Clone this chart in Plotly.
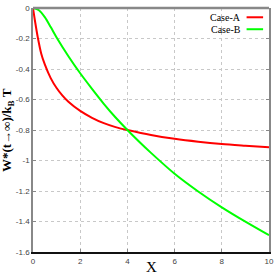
import plotly.graph_objects as go

x_a = [0, 0.1, 0.2, 0.35, 0.5, 0.75, 1, 1.25, 1.5, 2, 2.5, 3, 3.5, 4, 5, 6, 7, 8, 9, 10]
y_a = [0, -0.1, -0.19, -0.3, -0.37, -0.46, -0.525, -0.575, -0.615, -0.675, -0.72, -0.755,
       -0.781, -0.8, -0.833, -0.858, -0.877, -0.892, -0.903, -0.913]

x_b = [0, 0.25, 0.5, 0.75, 1, 1.5, 2, 2.5, 3, 3.5, 4, 4.5, 5, 6, 7, 8, 9, 10]
y_b = [0, -0.015, -0.06, -0.125, -0.193, -0.316, -0.428, -0.53, -0.628, -0.718, -0.8, -0.877,
       -0.95, -1.087, -1.203, -1.307, -1.401, -1.49]

x_ticks = [0, 2, 4, 6, 8, 10]
y_ticks = [0, -0.2, -0.4, -0.6, -0.8, -1, -1.2, -1.4, -1.6]
y_ticktext = ["0", "-0.2", "-0.4", "-0.6", "-0.8", "-1", "-1.2", "-1.4", "-1.6"]

series_names = ["Case-A", "Case-B"]
colors = ["#ff0000", "#00ff00"]

fig = go.Figure()
fig.add_trace(go.Scatter(x=x_a, y=y_a, mode="lines", name=series_names[0],
                         line=dict(color=colors[0], width=2, shape="spline", smoothing=0.8),
                         showlegend=False))
fig.add_trace(go.Scatter(x=x_b, y=y_b, mode="lines", name=series_names[1],
                         line=dict(color=colors[1], width=2, shape="spline", smoothing=0.8),
                         showlegend=False))

tickfont = dict(family="Liberation Sans Narrow, Liberation Sans, sans-serif", size=8, color="#444")

fig.update_layout(
    width=277, height=277,
    margin=dict(l=33, r=8, t=8, b=25, autoexpand=False),
    plot_bgcolor="white", paper_bgcolor="white",
    xaxis=dict(range=[0, 10], tickvals=x_ticks, ticktext=[str(v) for v in x_ticks],
               showgrid=True, gridcolor="#c8c8c8", griddash="dot", gridwidth=1,
               showline=True, linecolor="#111", linewidth=2,
               ticks="inside", ticklen=3, tickcolor="#888", mirror=False,
               zeroline=False, tickfont=tickfont, automargin=False),
    yaxis=dict(range=[-1.6, 0], tickvals=y_ticks, ticktext=y_ticktext,
               showgrid=True, gridcolor="#c8c8c8", griddash="dot", gridwidth=1,
               showline=True, linecolor="#888", linewidth=1.5, mirror="allticks",
               ticks="inside", ticklen=3, tickcolor="#888",
               zeroline=False, tickfont=tickfont, automargin=False),
)

# top frame line
fig.add_shape(type="line", xref="paper", yref="paper", x0=0, x1=1, y0=1, y1=1,
              line=dict(color="#888", width=2.5))

# axis titles
fig.add_annotation(text="X", xref="paper", yref="paper", x=0.5, y=-0.062,
                   xanchor="center", yanchor="middle", showarrow=False,
                   font=dict(family="Liberation Serif, Times New Roman, serif", size=15, color="black"))
fig.add_annotation(text="<b>W*(t\u2192\u221e)/k<sub>B</sub> T</b>", xref="paper", yref="paper",
                   x=-0.11, y=0.5, xanchor="center", yanchor="middle", textangle=-90,
                   showarrow=False,
                   font=dict(family="Liberation Serif, Times New Roman, serif", size=13, color="black"))

# legend (text left, sample line right)
leg_y = [0.962, 0.913]
for name, col, yy in zip(series_names, colors, leg_y):
    fig.add_annotation(text=name, xref="paper", yref="paper", x=0.89, y=yy,
                       xanchor="right", yanchor="middle", showarrow=False,
                       font=dict(family="Liberation Serif, Times New Roman, serif", size=10, color="black"))
    fig.add_shape(type="line", xref="paper", yref="paper", x0=0.905, x1=0.975, y0=yy, y1=yy,
                  line=dict(color=col, width=2))

fig.write_html("out.html", config={"displayModeBar": False},
               post_script="document.body.style.margin='0';document.body.style.padding='0';")
